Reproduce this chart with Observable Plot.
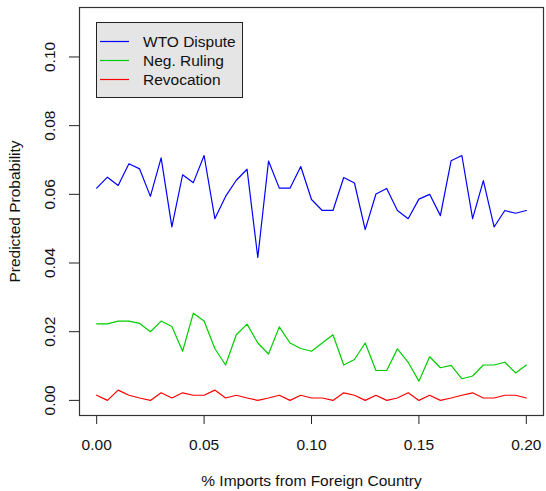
<!DOCTYPE html>
<html>
<head>
<meta charset="utf-8">
<script src="https://cdn.jsdelivr.net/npm/d3@7"></script>
<script src="https://cdn.jsdelivr.net/npm/@observablehq/plot@0.6"></script>
<style>
  html, body { margin: 0; padding: 0; background: #fff; }
  #chart svg { display: block; }
</style>
</head>
<body>
<div id="chart"></div>
<script>
const imports = [0.000,0.005,0.010,0.015,0.020,0.025,0.030,0.035,0.040,0.045,0.050,0.055,0.060,0.065,0.070,0.075,0.080,0.085,0.090,0.095,0.100,0.105,0.110,0.115,0.120,0.125,0.130,0.135,0.140,0.145,0.150,0.155,0.160,0.165,0.170,0.175,0.180,0.185,0.190,0.195,0.200];
const wtoDispute = [0.0618,0.0650,0.0626,0.0689,0.0674,0.0594,0.0706,0.0505,0.0657,0.0634,0.0713,0.0529,0.0594,0.0641,0.0673,0.0416,0.0697,0.0618,0.0618,0.0681,0.0585,0.0553,0.0553,0.0649,0.0633,0.0497,0.0601,0.0617,0.0553,0.0529,0.0586,0.0600,0.0538,0.0698,0.0713,0.0529,0.0640,0.0505,0.0553,0.0545,0.0553];
const negRuling = [0.0223,0.0223,0.0231,0.0231,0.0224,0.0200,0.0231,0.0215,0.0143,0.0254,0.0231,0.0151,0.0103,0.0191,0.0222,0.0167,0.0135,0.0214,0.0167,0.0151,0.0143,0.0167,0.0191,0.0103,0.0119,0.0167,0.0087,0.0087,0.0150,0.0111,0.0056,0.0127,0.0095,0.0102,0.0063,0.0071,0.0103,0.0103,0.0111,0.0080,0.0103];
const revocation = [0.0015,0.0000,0.0030,0.0015,0.0007,0.0000,0.0022,0.0007,0.0022,0.0015,0.0015,0.0030,0.0007,0.0015,0.0007,0.0000,0.0007,0.0015,0.0000,0.0015,0.0007,0.0007,0.0000,0.0022,0.0015,0.0000,0.0015,0.0000,0.0007,0.0022,0.0000,0.0015,0.0000,0.0007,0.0015,0.0022,0.0007,0.0007,0.0015,0.0015,0.0007];

const seriesNames = ["WTO Dispute", "Neg. Ruling", "Revocation"];
const seriesColors = ["#0000FF", "#00CD00", "#FF0000"];
const xTicks = [0.00, 0.05, 0.10, 0.15, 0.20];
const yTicks = [0.00, 0.02, 0.04, 0.06, 0.08, 0.10];
const xLabel = "% Imports from Foreign Country";
const yLabel = "Predicted Probability";

const seriesValues = [wtoDispute, negRuling, revocation];
const rows = [];
seriesValues.forEach((vals, s) => {
  vals.forEach((v, i) => rows.push({x: imports[i], y: v, series: seriesNames[s]}));
});

const FONT = "'Liberation Sans', Arial, Helvetica, sans-serif";
const FS = 15.5;

const chart = Plot.plot({
  width: 546,
  height: 491,
  marginLeft: 79,
  marginRight: 3,
  marginTop: 7,
  marginBottom: 76,
  style: {fontFamily: FONT, fontSize: FS + "px", background: "#fff", color: "#000"},
  x: {domain: [-0.008, 0.208], axis: null},
  y: {domain: [-0.0044, 0.1144], axis: null},
  color: {domain: seriesNames, range: seriesColors},
  marks: [
    Plot.axisX(xTicks, {tickSize: 9, tickFormat: () => "", label: null, stroke: "#222"}),
    Plot.axisY(yTicks, {tickSize: 10, tickFormat: () => "", label: null, stroke: "#222"}),
    Plot.text(xTicks, {x: d => d, text: d => d.toFixed(2), frameAnchor: "bottom", dy: 29.5, lineAnchor: "middle", fontSize: FS, fill: "#111"}),
    Plot.text(yTicks, {y: d => d, text: d => d.toFixed(2), frameAnchor: "left", dx: -29, rotate: -90, textAnchor: "middle", lineAnchor: "middle", fontSize: FS, fill: "#111"}),
    Plot.text([xLabel], {text: d => d, frameAnchor: "bottom", dy: 66, lineAnchor: "middle", fontSize: FS, fill: "#111"}),
    Plot.text([yLabel], {text: d => d, frameAnchor: "left", dx: -64, rotate: -90, textAnchor: "middle", lineAnchor: "middle", fontSize: FS, fill: "#111"}),
    Plot.line(rows, {x: "x", y: "y", z: "series", stroke: "series", strokeWidth: 1.2}),
    Plot.frame({stroke: "#333", strokeWidth: 1.2})
  ]
});

// R-style legend box in the top-left corner
const svg = d3.select(chart);
const lg = svg.append("g").attr("font-family", FONT).attr("font-size", FS).attr("text-anchor", "start");
lg.append("rect").attr("x", 96.5).attr("y", 22.5).attr("width", 146).attr("height", 75)
  .attr("fill", "#E5E5E5").attr("stroke", "#222").attr("stroke-width", 1);
seriesNames.forEach((name, i) => {
  const cy = 41.5 + i * 19;
  lg.append("line").attr("x1", 100).attr("x2", 129).attr("y1", cy).attr("y2", cy)
    .attr("stroke", seriesColors[i]).attr("stroke-width", 1.2);
  lg.append("text").attr("x", 143).attr("y", cy).attr("dy", "0.35em")
    .attr("text-anchor", "start").attr("fill", "#111").text(name);
});

document.getElementById("chart").appendChild(chart);
</script>
</body>
</html>
